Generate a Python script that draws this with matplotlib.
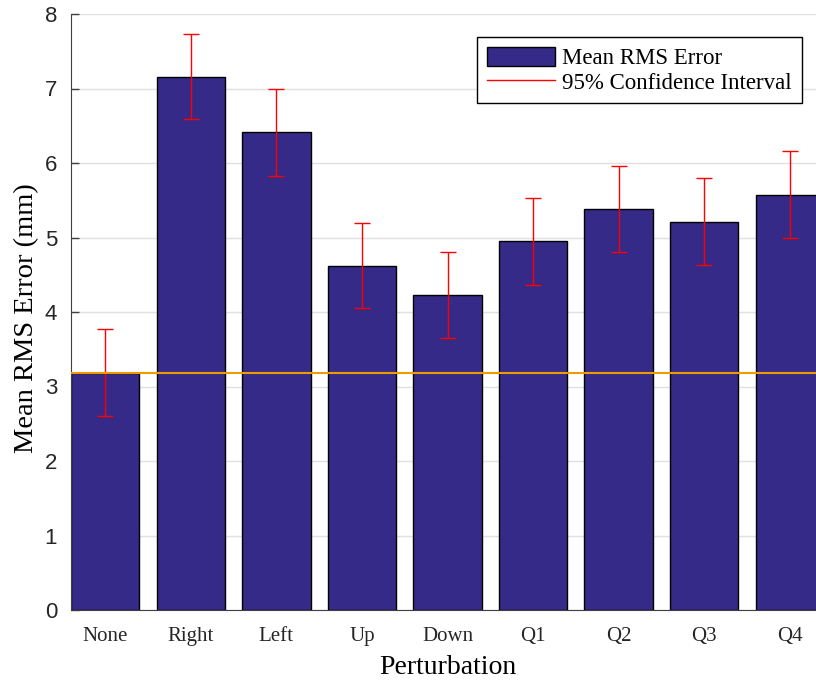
import numpy as np
import matplotlib
matplotlib.use("Agg")
import matplotlib.pyplot as plt
from matplotlib.lines import Line2D

# data
categories = ["None", "Right", "Left", "Up", "Down", "Q1", "Q2", "Q3", "Q4"]
mean_rms = [3.18, 7.15, 6.41, 4.62, 4.23, 4.95, 5.38, 5.21, 5.57]
ci_low = [2.60, 6.59, 5.83, 4.05, 3.65, 4.36, 4.81, 4.63, 4.99]
ci_high = [3.77, 7.73, 6.99, 5.19, 4.81, 5.53, 5.96, 5.80, 6.16]
baseline = mean_rms[0]

bar_color = "#352a87"
serif = ["Liberation Serif", "DejaVu Serif"]
sans = ["Liberation Sans", "DejaVu Sans"]

x = np.arange(1, len(categories) + 1)
m = np.array(mean_rms)
yerr = [m - np.array(ci_low), np.array(ci_high) - m]

fig = plt.figure(figsize=(8.16, 6.84), dpi=100)
ax = fig.add_axes([71 / 816, 74 / 684, 753 / 816, 596 / 684])

bars = ax.bar(x, mean_rms, width=0.8, color=bar_color, edgecolor="black",
              linewidth=1.0, zorder=2)
ax.errorbar(x, mean_rms, yerr=yerr, fmt="none", ecolor="red",
            elinewidth=1.0, capsize=6, capthick=1.0, zorder=3)
ax.axhline(baseline, color="#ee9a00", linewidth=1.5, zorder=4)

ax.set_xlim(0.6, 9.4)
ax.set_ylim(0, 8)
ax.set_yticks(range(0, 9))
ax.set_xticks(x)
ax.set_xticklabels(categories, fontfamily=serif, fontsize=15)
for lbl in ax.get_yticklabels():
    lbl.set_fontfamily(sans)
    lbl.set_fontsize(16)
ax.tick_params(axis="y", direction="in", length=6, width=1, color="#404040",
               pad=10, labelcolor="#262626")
ax.tick_params(axis="x", length=0, pad=12, labelcolor="#262626")

ax.yaxis.grid(True, color="#e0e0e0", linewidth=1, zorder=0)
ax.set_axisbelow(True)
for s in ["top", "right"]:
    ax.spines[s].set_visible(False)
ax.spines["left"].set_color("#404040")
ax.spines["bottom"].set_color("#404040")

ax.set_ylabel("Mean RMS Error (mm)", fontfamily=serif, fontsize=20.5)
ax.yaxis.set_label_coords(-0.0425, 0.49)
ax.set_xlabel("Perturbation", fontfamily=serif, fontsize=20)
ax.xaxis.set_label_coords(0.5, -0.075)

handles = [bars, Line2D([], [], color="red", linewidth=1.0)]
labels = ["Mean RMS Error", "95% Confidence Interval"]
leg = ax.legend(handles, labels, loc="upper left",
                bbox_to_anchor=(477 / 816, 1 - 37 / 684), bbox_transform=fig.transFigure,
                prop={"family": serif, "size": 16.5}, frameon=True, fancybox=False,
                edgecolor="black", framealpha=1, borderaxespad=0,
                handlelength=3.0, handleheight=0.9, handletextpad=0.3,
                borderpad=0.42, labelspacing=0.1)
leg.get_frame().set_linewidth(1.0)

fig.savefig("out.png", dpi=100)
